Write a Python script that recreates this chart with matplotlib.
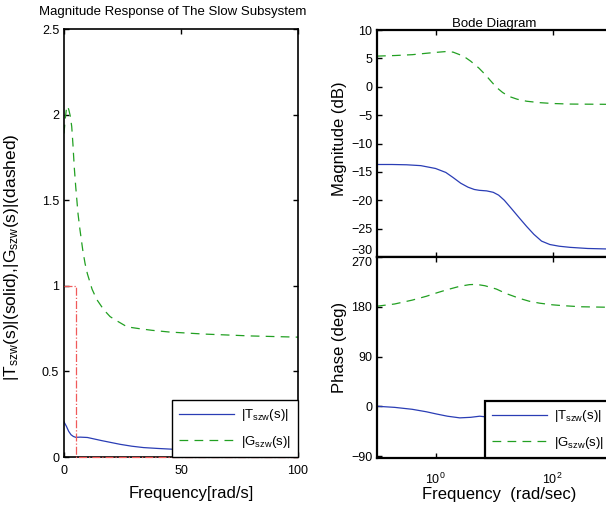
import matplotlib
matplotlib.use("Agg")
import matplotlib.pyplot as plt

plt.rcParams['font.family'] = ['Liberation Sans', 'DejaVu Sans']
plt.rcParams['mathtext.default'] = 'regular'

# ---- left panel data (linear frequency) ----
t_freq = [0, 1, 2, 3, 4, 5, 7, 10, 13, 16, 20, 24, 29, 34, 40, 47, 60, 80, 100]
t_mag = [0.205, 0.18, 0.15, 0.13, 0.12, 0.115, 0.116, 0.114, 0.105, 0.096, 0.085, 0.074,
         0.063, 0.055, 0.05, 0.045, 0.04, 0.035, 0.031]

g_freq = [0, 0.5, 1, 1.6, 2.2, 2.7, 3.3, 3.8, 4.4, 5, 6, 6.8, 8, 9, 10, 12, 14, 17, 19.7,
          22, 27, 32, 37.6, 45, 60, 80, 100]
g_mag = [1.89, 1.97, 2.03, 2.05, 2.02, 1.99, 1.93, 1.83, 1.69, 1.58, 1.42, 1.33, 1.21, 1.13,
         1.07, 0.98, 0.92, 0.86, 0.82, 0.80, 0.76, 0.75, 0.74, 0.73, 0.718, 0.707, 0.70]

band_freq = [0, 5, 5, 100]
band_val = [1, 1, 0, 0]

# ---- right panel data (bode) ----
bt_freq = [0.1, 0.18, 0.32, 0.56, 1.0, 1.5, 2.0, 2.7, 3.6, 4.6, 5.6, 7.5, 9.7, 12, 15, 20,
           27, 36, 48, 65, 90, 130, 200, 400, 1000]
bt_db = [-13.7, -13.7, -13.75, -13.9, -14.4, -15.1, -16.0, -17.0, -17.7, -18.1, -18.25,
         -18.35, -18.6, -19.1, -20.0, -21.5, -23.1, -24.6, -26.0, -27.2, -27.8, -28.1,
         -28.3, -28.5, -28.6]

bg_freq = [0.1, 0.2, 0.4, 0.7, 1.0, 1.5, 2.0, 3.0, 4.0, 5.5, 7.0, 8.5, 11, 14, 18, 25, 36,
           60, 100, 200, 1000]
bg_db = [5.4, 5.5, 5.65, 5.9, 6.05, 6.2, 6.1, 5.4, 4.5, 3.3, 2.2, 1.2, -0.1, -1.0, -1.7,
         -2.2, -2.55, -2.8, -2.95, -3.05, -3.1]

pt_freq = [0.1, 0.2, 0.4, 0.7, 1.04, 1.6, 2.6, 4, 5.7, 7, 8, 12, 20, 40, 100, 300, 1000]
pt_deg = [0, -2, -5.5, -10, -14, -18, -21, -20, -18, -19, -21, -24, -24, -18, -10, -4, -2]

pg_freq = [0.1, 0.2, 0.4, 0.7, 1.04, 1.6, 2.6, 3.8, 5.0, 7, 11, 16, 27.6, 40, 60, 100, 150,
           300, 1000]
pg_deg = [181, 185, 192, 199, 205, 211, 217, 220, 220.5, 218, 212, 204, 195, 190, 186.5,
          183.5, 182, 180, 179]

blue = '#2a3db5'
green = '#22a022'
red = '#f05a5a'
dash = (0, (7, 5))

W, H = 606, 509
fig = plt.figure(figsize=(W / 100, H / 100), dpi=100)


def rect(x0, y0, x1, y1):
    return [x0 / W, 1 - y1 / H, (x1 - x0) / W, (y1 - y0) / H]


def style(ax, lw):
    for s in ax.spines.values():
        s.set_linewidth(lw)
    ax.tick_params(direction='in', length=3.5, width=1, top=True, right=True, labelsize=9)


def add_legend(ax, lw):
    leg = ax.legend(loc='lower right', borderaxespad=0, fancybox=False, edgecolor='black',
                    framealpha=1, fontsize=9.5, handlelength=4.2, handletextpad=0.5,
                    labelspacing=0.8, borderpad=0.55)
    leg.get_frame().set_linewidth(lw)
    leg.set_zorder(5)
    return leg


# left
ax = fig.add_axes(rect(64, 29, 298, 457))
ax.plot(t_freq, t_mag, color=blue, lw=0.9, label='|T$_{szw}$(s)|')
ax.plot(g_freq, g_mag, color=green, lw=0.9, linestyle=dash, label='|G$_{szw}$(s)|')
ax.plot(band_freq, band_val, color=red, lw=0.9, linestyle='-.', clip_on=False, zorder=3)
ax.set_xlim(0, 100)
ax.set_ylim(0, 2.5)
ax.set_xticks([0, 50, 100])
ax.set_yticks([0, 0.5, 1, 1.5, 2, 2.5])
ax.set_yticklabels(['0', '0.5', '1', '1.5', '2', '2.5'])
style(ax, 1.2)
ax.tick_params(axis='x', pad=6)
ax.set_xlabel('Frequency[rad/s]', fontsize=12)
ax.xaxis.set_label_coords((191 - 64) / 234, -(486 - 457) / 428)
ax.set_ylabel('|T$_{szw}$(s)|(solid),|G$_{szw}$(s)|(dashed)', fontsize=12.5)
ax.yaxis.set_label_coords(-(64 - 21) / 234, (457 - 257) / 428)
add_legend(ax, 1.0)
fig.text(173 / W, 1 - 12 / H, 'Magnitude Response of The Slow Subsystem', fontsize=9.5,
         ha='center', va='center')

# right magnitude
am = fig.add_axes(rect(377, 30, 611, 257))
am.semilogx(bt_freq, bt_db, color=blue, lw=0.9)
am.semilogx(bg_freq, bg_db, color=green, lw=0.9, linestyle=dash)
am.set_xlim(0.1, 1000)
am.set_ylim(-30, 10)
am.set_xticks([1, 100])
am.minorticks_off()
am.set_xticklabels([])
am.set_yticks(range(-30, 11, 5))
am.set_yticklabels(['\u221230', '\u221225', '\u221220', '\u221215', '\u221210', '\u22125',
                    '0', '5', '10'])
am.get_yticklabels()[0].set_va('bottom')
style(am, 1.6)
am.set_ylabel('Magnitude (dB)', fontsize=12)
am.yaxis.set_label_coords(-(377 - 347) / 234, 0.52)
am.set_title('Bode Diagram', fontsize=9.5, pad=2)

# right phase
ap = fig.add_axes(rect(377, 257, 611, 458))
ap.semilogx(pt_freq, pt_deg, color=blue, lw=0.9, label='|T$_{szw}$(s)|')
ap.semilogx(pg_freq, pg_deg, color=green, lw=0.9, linestyle=dash, label='|G$_{szw}$(s)|')
ap.set_xlim(0.1, 1000)
ap.set_ylim(-93.6, 270)
ap.set_xticks([1, 100])
ap.minorticks_off()
ap.set_yticks([-90, 0, 90, 180, 270])
ap.set_yticklabels(['\u221290', '0', '90', '180', '270'])
ap.get_yticklabels()[-1].set_va('top')
style(ap, 1.6)
ap.tick_params(axis='x', pad=10)
ap.set_ylabel('Phase (deg)', fontsize=12)
ap.yaxis.set_label_coords(-(377 - 347) / 234, 0.55)
ap.set_xlabel('Frequency  (rad/sec)', fontsize=12)
ap.xaxis.set_label_coords((499 - 377) / 234, -(487 - 458) / 201)
add_legend(ap, 1.6)

fig.savefig('out.png', dpi=100)
